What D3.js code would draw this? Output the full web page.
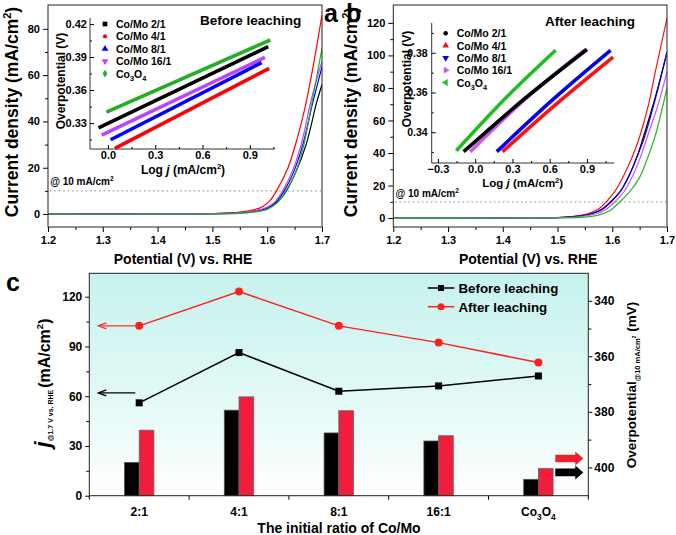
<!DOCTYPE html>
<html>
<head>
<meta charset="utf-8">
<script src="https://cdn.jsdelivr.net/npm/d3@7/dist/d3.min.js"></script>
<style>
  body { margin: 0; background: #fff; }
  svg { display: block; font-family: "Liberation Sans", Arial, sans-serif; font-weight: bold; }
</style>
</head>
<body>
<svg id="chart" width="676" height="535"></svg>
<script>
// DATA -------------------------------------------------------------
var sampleNames = ["Co/Mo 2/1", "Co/Mo 4/1", "Co/Mo 8/1", "Co/Mo 16/1", "Co3O4"];
var ratioLabels = ["2:1", "4:1", "8:1", "16:1", "Co3O4"];

// panel c : current at 1.7 V (left axis) and overpotential @10 mA/cm2 (right axis, bars)
var jBefore = [56, 86.3, 63, 66.2, 72.2];
var jAfter = [102.4, 123.1, 102.4, 92.3, 80.3];
var etaBefore = [398.2, 379.4, 387.6, 390.5, 404.3];
var etaAfter = [386.6, 374.6, 379.6, 388.6, 400.4];

// LSV curves [potential V, j mA/cm2] before leaching
var lsvBefore21 = [[1.2,0],[1.45,0.05],[1.5,0.15],[1.55,0.5],[1.575,1.1],[1.6,2.5],[1.62,5.5],[1.635,10],[1.652,18],[1.671,30],[1.69,48],[1.7,56]];
var lsvBefore41 = [[1.2,0],[1.45,0.1],[1.5,0.2],[1.55,0.8],[1.575,1.8],[1.593,3.4],[1.605,5.8],[1.617,10],[1.638,20],[1.654,32],[1.669,46],[1.684,64],[1.7,86]];
var lsvBefore81 = [[1.2,0],[1.45,0.05],[1.5,0.15],[1.55,0.5],[1.575,1.2],[1.6,2.6],[1.617,5.5],[1.631,10],[1.648,18],[1.665,30],[1.683,48],[1.7,63.6]];
var lsvBefore161 = [[1.2,0],[1.45,0.05],[1.5,0.15],[1.55,0.55],[1.575,1.3],[1.6,2.9],[1.615,5.5],[1.628,10],[1.645,18],[1.662,30],[1.681,50],[1.7,66]];
var lsvBeforeCo = [[1.2,0],[1.45,0],[1.5,0.05],[1.55,0.3],[1.575,0.8],[1.6,2],[1.618,4.8],[1.634,10],[1.652,18],[1.667,30],[1.683,50],[1.7,71.6]];

// LSV curves after leaching
var lsvAfter21 = [[1.2,0],[1.45,0.1],[1.5,0.3],[1.53,0.9],[1.56,2.6],[1.58,5.2],[1.597,10],[1.615,16.5],[1.632,27],[1.645,37.5],[1.657,50],[1.68,76],[1.7,102]];
var lsvAfter41 = [[1.2,0],[1.45,0.1],[1.5,0.3],[1.53,1],[1.555,2.6],[1.575,5.5],[1.589,10],[1.606,17],[1.623,27.5],[1.637,38],[1.65,50],[1.665,68],[1.68,92],[1.7,123]];
var lsvAfter81 = [[1.2,0],[1.45,0.1],[1.5,0.3],[1.53,0.9],[1.56,2.5],[1.58,5],[1.598,10],[1.615,16.5],[1.632,27],[1.645,37.5],[1.659,50],[1.68,75],[1.7,102]];
var lsvAfter161 = [[1.2,0],[1.45,0.05],[1.5,0.2],[1.54,0.8],[1.565,2.2],[1.587,5],[1.605,10],[1.622,16.5],[1.638,26.5],[1.651,37],[1.664,50],[1.684,70],[1.7,90]];
var lsvAfterCo = [[1.2,0],[1.45,0.05],[1.5,0.1],[1.55,0.6],[1.575,1.8],[1.596,4.6],[1.614,10],[1.632,16.3],[1.65,25],[1.664,36.5],[1.678,50],[1.7,80]];

// Tafel insets [log j, overpotential V]
var tafelBefore21 = [[-0.06,0.3255],[1.017,0.3994]];
var tafelBefore41 = [[0.044,0.307],[1.023,0.3797]];
var tafelBefore81 = [[0.017,0.3148],[0.975,0.385]];
var tafelBefore161 = [[-0.04,0.319],[0.996,0.3897]];
var tafelBeforeCo = [[-0.01,0.340],[1.03,0.4055]];

var tafelAfter21 = [[-0.093,0.3302],[0.4,0.357],[0.9,0.3817]];
var tafelAfter41 = [[0.22,0.3302],[0.65,0.354],[1.11,0.3778]];
var tafelAfter81 = [[0.174,0.3302],[0.6,0.355],[1.09,0.3812]];
var tafelAfter161 = [[-0.04,0.3302],[0.4,0.3565],[0.89,0.3817]];
var tafelAfterCo = [[-0.152,0.3307],[0.25,0.3575],[0.648,0.3813]];

// ------------------------------------------------------------------
var svg = d3.select("#chart");
var defs = svg.append("defs");
var colorsA = ["#000000", "#ff0000", "#0000ff", "#bb44ff", "#22b022"];
var colorsB = ["#000000", "#ff1010", "#0000ee", "#cc55ee", "#22bb22"];

function styleAxis(g, fs) {
	g.select(".domain").remove();
	g.selectAll(".tick line").attr("stroke", "#000");
	g.selectAll(".tick text").attr("font-size", fs).attr("font-weight", "bold").attr("fill", "#000")
		.attr("font-family", "'Liberation Sans', Arial, sans-serif");
}

function writeName(t, s, fs) {
	if (s === "Co3O4") {
		t.append("tspan").text("Co");
		t.append("tspan").attr("font-size", fs * 0.7).attr("dy", fs * 0.3).text("3");
		t.append("tspan").attr("dy", -fs * 0.3).text("O");
		t.append("tspan").attr("font-size", fs * 0.7).attr("dy", fs * 0.3).text("4");
	} else {
		t.text(s);
	}
}

function lsvPanel(o) {
	var x = d3.scaleLinear().domain([1.2, 1.7]).range([o.left, o.right]);
	var y = d3.scaleLinear().domain(o.yDom).range([o.bottom, o.top]);
	var g = svg.append("g");

	g.append("g").attr("transform", "translate(0," + o.bottom + ")")
		.call(d3.axisBottom(x).tickValues([1.25, 1.35, 1.45, 1.55, 1.65]).tickSize(3).tickFormat(""))
		.call(styleAxis, 11);
	g.append("g").attr("transform", "translate(0," + o.bottom + ")")
		.call(d3.axisBottom(x).tickValues([1.2, 1.3, 1.4, 1.5, 1.6, 1.7]).tickSize(5).tickPadding(4).tickFormat(d3.format(".1f")))
		.call(styleAxis, 11);
	g.append("g").attr("transform", "translate(" + o.left + ",0)")
		.call(d3.axisLeft(y).tickValues(o.yMinor).tickSize(3).tickFormat(""))
		.call(styleAxis, 11);
	g.append("g").attr("transform", "translate(" + o.left + ",0)")
		.call(d3.axisLeft(y).tickValues(o.yTicks).tickSize(5).tickPadding(3))
		.call(styleAxis, 11);

	// 10 mA/cm2 guide
	g.append("line").attr("x1", x(1.203)).attr("x2", o.right).attr("y1", y(10)).attr("y2", y(10))
		.attr("stroke", "#8c9cb4").attr("stroke-width", 1.2).attr("stroke-dasharray", "1.5,3");
	var lab = g.append("text").attr("x", x(1.204)).attr("y", y(10) - o.refGap).attr("font-size", 10);
	lab.append("tspan").text("@ 10 mA/cm");
	lab.append("tspan").attr("font-size", 6.5).attr("dy", -4).text("2");

	defs.append("clipPath").attr("id", "clip" + o.id).append("rect")
		.attr("x", o.left).attr("y", o.top).attr("width", o.right - o.left).attr("height", o.bottom - o.top);

	var line = d3.line().x(function(d) { return x(d[0]); }).y(function(d) { return y(d[1]); })
		.curve(d3.curveCatmullRom.alpha(0.5));
	g.append("g").attr("clip-path", "url(#clip" + o.id + ")")
		.selectAll("path").data(o.curves).enter().append("path")
		.attr("d", line).attr("fill", "none")
		.attr("stroke", function(d, i) { return o.colors[i]; })
		.attr("stroke-width", 1.2);

	g.append("rect").attr("x", o.left).attr("y", o.top).attr("width", o.right - o.left).attr("height", o.bottom - o.top)
		.attr("fill", "none").attr("stroke", "#222").attr("stroke-width", 1);

	g.append("text").attr("x", (o.left + o.right) / 2 - 2).attr("y", 264).attr("text-anchor", "middle")
		.attr("font-size", 14).text("Potential (V) vs. RHE");

	var yt = g.append("text").attr("transform", "translate(" + o.yTitleX + ",112) rotate(-90)")
		.attr("text-anchor", "middle").attr("font-size", 17.5);
	yt.append("tspan").text("Current density (mA/cm");
	yt.append("tspan").attr("font-size", 11).attr("dy", -7).text("2");
	yt.append("tspan").attr("dy", 7).text(")");

	g.append("text").attr("x", o.titleX).attr("y", o.titleY).attr("font-size", 13.5).text(o.title);
	g.append("text").attr("x", o.letterX).attr("y", 22).attr("font-size", 25).text(o.letter);
}

function tafelInset(o) {
	var x = d3.scaleLinear().domain(o.xDom).range([o.left, o.right]);
	var y = d3.scaleLinear().domain(o.yDom).range([o.bottom, o.top]);
	var g = svg.append("g");

	g.append("line").attr("x1", o.left).attr("x2", o.left).attr("y1", o.top).attr("y2", o.bottom).attr("stroke", "#333");
	g.append("line").attr("x1", o.left).attr("x2", o.right).attr("y1", o.bottom).attr("y2", o.bottom).attr("stroke", "#333");

	// ticks point inward
	g.append("g").attr("transform", "translate(0," + o.bottom + ")")
		.call(d3.axisBottom(x).tickValues(o.xMinor).tickSize(-2).tickFormat(""))
		.call(styleAxis, 11);
	g.append("g").attr("transform", "translate(0," + o.bottom + ")")
		.call(d3.axisBottom(x).tickValues(o.xTicks).tickSize(-4).tickPadding(o.xPad).tickFormat(d3.format(".1f")))
		.call(styleAxis, 11);
	g.append("g").attr("transform", "translate(" + o.left + ",0)")
		.call(d3.axisLeft(y).tickValues(o.yMinor).tickSize(-2).tickFormat(""))
		.call(styleAxis, 11);
	g.append("g").attr("transform", "translate(" + o.left + ",0)")
		.call(d3.axisLeft(y).tickValues(o.yTicks).tickSize(-4).tickPadding(o.yPad).tickFormat(d3.format(".2f")))
		.call(styleAxis, o.yFont);

	var line = d3.line().x(function(d) { return x(d[0]); }).y(function(d) { return y(d[1]); })
		.curve(d3.curveMonotoneX);
	var order = [4, 3, 2, 0, 1];
	order.forEach(function(i) {
		g.append("path").attr("d", line(o.series[i])).attr("fill", "none")
			.attr("stroke", o.colors[i]).attr("stroke-width", 3.6);
	});

	// legend
	sampleNames.forEach(function(name, i) {
		var ly = o.legY + i * o.legStep;
		g.append("path").attr("d", d3.symbol().type(o.symbols[i][0]).size(o.symbols[i][1])())
			.attr("transform", "translate(" + o.legX + "," + ly + ") rotate(" + o.symbols[i][2] + ")")
			.attr("fill", o.colors[i]);
		var t = g.append("text").attr("x", o.legX + 11).attr("y", ly + 4).attr("font-size", 10.5);
		writeName(t, name, 10.5);
	});

	g.append("text").attr("transform", "translate(" + o.yTitle[0] + "," + o.yTitle[1] + ") rotate(-90)")
		.attr("text-anchor", "middle").attr("font-size", 12).text("Overpotential (V)");
	var xt = g.append("text").attr("x", o.xTitle[0]).attr("y", o.xTitle[1]).attr("text-anchor", "middle").attr("font-size", o.xTitleFont);
	xt.append("tspan").text("Log ");
	xt.append("tspan").attr("font-style", "italic").text("j");
	xt.append("tspan").text(" (mA/cm");
	xt.append("tspan").attr("font-size", 7.5).attr("dy", -4.5).text("2");
	xt.append("tspan").attr("dy", 4.5).text(")");
}

// panel a
lsvPanel({
	id: "a", left: 48, right: 322, top: 5, bottom: 227, yDom: [-5.6, 90.3],
	yTicks: [0, 20, 40, 60, 80], yMinor: [10, 30, 50, 70],
	curves: [lsvBefore21, lsvBefore41, lsvBefore81, lsvBefore161, lsvBeforeCo], colors: colorsA,
	refGap: 6, yTitleX: 17.5, title: "Before leaching", titleX: 200, titleY: 24.5, letter: "a", letterX: 324
});
tafelInset({
	left: 90, right: 275, top: 18, bottom: 149, xDom: [-0.114, 1.06], yDom: [0.3064, 0.4255],
	xTicks: [0, 0.3, 0.6, 0.9], xMinor: [0.15, 0.45, 0.75, 1.05], xPad: 2,
	yTicks: [0.33, 0.36, 0.39, 0.42], yMinor: [0.315, 0.345, 0.375, 0.405], yFont: 11, yPad: 3,
	series: [tafelBefore21, tafelBefore41, tafelBefore81, tafelBefore161, tafelBeforeCo], colors: colorsA,
	symbols: [[d3.symbolSquare, 22, 0], [d3.symbolCircle, 14, 0], [d3.symbolTriangle, 20, 0], [d3.symbolTriangle, 20, 180], [d3.symbolDiamond, 18, 0]],
	legX: 105, legY: 24, legStep: 12.4, yTitle: [65, 81], xTitle: [183, 173.5], xTitleFont: 12
});

// panel b
lsvPanel({
	id: "b", left: 393.3, right: 667, top: 5, bottom: 227, yDom: [-5.5, 131],
	yTicks: [0, 20, 40, 60, 80, 100, 120], yMinor: [10, 30, 50, 70, 90, 110],
	curves: [lsvAfter21, lsvAfter41, lsvAfter81, lsvAfter161, lsvAfterCo], colors: colorsB,
	refGap: 5, yTitleX: 357, title: "After leaching", titleX: 545, titleY: 25.5, letter: "b", letterX: 346
});
tafelInset({
	left: 431.7, right: 614.3, top: 23, bottom: 163, xDom: [-0.35, 1.12], yDom: [0.3245, 0.395],
	xTicks: [-0.3, 0, 0.3, 0.6, 0.9], xMinor: [-0.15, 0.15, 0.45, 0.75, 1.05], xPad: 2.5,
	yTicks: [0.34, 0.36, 0.38], yMinor: [0.33, 0.35, 0.37, 0.39], yFont: 10.5, yPad: 4,
	series: [tafelAfter21, tafelAfter41, tafelAfter81, tafelAfter161, tafelAfterCo], colors: colorsB,
	symbols: [[d3.symbolCircle, 16, 0], [d3.symbolTriangle, 20, 0], [d3.symbolTriangle, 20, 180], [d3.symbolTriangle, 20, 90], [d3.symbolTriangle, 20, -90]],
	legX: 445.7, legY: 33.3, legStep: 12.3, yTitle: [411, 79], xTitle: [522.7, 187], xTitleFont: 11.5
});

// panel c ----------------------------------------------------------
var cL = 89.3, cR = 588.3, cT = 273.3, cB = 495.7;
var xc = d3.scaleBand().domain(ratioLabels).range([cL, cR]);
var yL = d3.scaleLinear().domain([0, 134.1]).range([cB, cT]);
var yR = d3.scaleLinear().domain([410.2, 330.1]).range([cB, cT]);
var barW = 14.7;
function mid(i) { return xc(ratioLabels[i]) + xc.bandwidth() / 2; }

var grad = defs.append("linearGradient").attr("id", "bgC").attr("x1", 0).attr("y1", 0).attr("x2", 0).attr("y2", 1);
grad.append("stop").attr("offset", "0%").attr("stop-color", "#c6f2ee");
grad.append("stop").attr("offset", "55%").attr("stop-color", "#e2f9f6");
grad.append("stop").attr("offset", "100%").attr("stop-color", "#ffffff");

var gc = svg.append("g");
gc.append("rect").attr("x", cL).attr("y", cT).attr("width", cR - cL).attr("height", cB - cT).attr("fill", "url(#bgC)");

gc.selectAll(".barB").data(etaBefore).enter().append("rect").attr("class", "barB")
	.attr("x", function(d, i) { return mid(i) - barW; })
	.attr("y", function(d) { return yR(d); })
	.attr("width", barW).attr("height", function(d) { return cB - yR(d); })
	.attr("fill", "#000").attr("stroke", "#555").attr("stroke-width", 0.8);
gc.selectAll(".barA").data(etaAfter).enter().append("rect").attr("class", "barA")
	.attr("x", function(d, i) { return mid(i); })
	.attr("y", function(d) { return yR(d); })
	.attr("width", barW).attr("height", function(d) { return cB - yR(d); })
	.attr("fill", "#f21c3c").attr("stroke", "#666").attr("stroke-width", 0.8);

var lineC = d3.line().x(function(d, i) { return mid(i); }).y(function(d) { return yL(d); });
gc.append("path").attr("d", lineC(jBefore)).attr("fill", "none").attr("stroke", "#000").attr("stroke-width", 1.5);
gc.selectAll(".mB").data(jBefore).enter().append("rect").attr("class", "mB")
	.attr("x", function(d, i) { return mid(i) - 3.5; }).attr("y", function(d) { return yL(d) - 3.5; })
	.attr("width", 7).attr("height", 7).attr("fill", "#000");
gc.append("path").attr("d", lineC(jAfter)).attr("fill", "none").attr("stroke", "#ff2020").attr("stroke-width", 1.5);
gc.selectAll(".mA").data(jAfter).enter().append("circle").attr("class", "mA")
	.attr("cx", function(d, i) { return mid(i); }).attr("cy", function(d) { return yL(d); })
	.attr("r", 4).attr("fill", "#ff2020");

// axes
gc.append("g").attr("transform", "translate(" + cL + ",0)")
	.call(d3.axisLeft(yL).tickValues([15, 45, 75, 105]).tickSize(3).tickFormat(""))
	.call(styleAxis, 12);
gc.append("g").attr("transform", "translate(" + cL + ",0)")
	.call(d3.axisLeft(yL).tickValues([0, 30, 60, 90, 120]).tickSize(4).tickPadding(3))
	.call(styleAxis, 12);
gc.append("g").attr("transform", "translate(" + cR + ",0)")
	.call(d3.axisRight(yR).tickValues([350, 370, 390]).tickSize(3).tickFormat(""))
	.call(styleAxis, 12);
gc.append("g").attr("transform", "translate(" + cR + ",0)")
	.call(d3.axisRight(yR).tickValues([340, 360, 380, 400]).tickSize(4).tickPadding(2))
	.call(styleAxis, 12);
ratioLabels.concat([null]).forEach(function(d) {
	var xx = d === null ? cR : xc(d);
	gc.append("line").attr("x1", xx).attr("x2", xx).attr("y1", cB).attr("y2", cB + 4).attr("stroke", "#000");
});
ratioLabels.forEach(function(d, i) {
	var t = gc.append("text").attr("x", mid(i)).attr("y", 516).attr("text-anchor", "middle").attr("font-size", 12);
	writeName(t, d, 12);
});

gc.append("rect").attr("x", cL).attr("y", cT).attr("width", cR - cL).attr("height", cB - cT)
	.attr("fill", "none").attr("stroke", "#222").attr("stroke-width", 1);

gc.append("text").attr("x", 339).attr("y", 533).attr("text-anchor", "middle").attr("font-size", 14)
	.text("The initial ratio of Co/Mo");

// left title
var lt = gc.append("text").attr("transform", "translate(50,383) rotate(-90)").attr("text-anchor", "middle");
lt.append("tspan").attr("font-size", 22).attr("font-style", "italic").text("j");
lt.append("tspan").attr("font-size", 7).attr("dy", 3).text("@1.7 V vs. RHE ");
lt.append("tspan").attr("font-size", 16).attr("dy", -3).text("(mA/cm");
lt.append("tspan").attr("font-size", 9.5).attr("dy", -7).text("2");
lt.append("tspan").attr("font-size", 16).attr("dy", 7).text(")");

// right title
var rt = gc.append("text").attr("transform", "translate(636,385) rotate(-90)").attr("text-anchor", "middle");
rt.append("tspan").attr("font-size", 13.5).text("Overpotential");
rt.append("tspan").attr("font-size", 7.5).attr("dy", 4).text("@10 mA/cm");
rt.append("tspan").attr("font-size", 5).attr("dy", -4).text("2");
rt.append("tspan").attr("font-size", 13.5).attr("dy", 0).text(" (mV)");

// legend
[["Before leaching", "#000", 288], ["After leaching", "#ff2020", 306.7]].forEach(function(r, i) {
	gc.append("line").attr("x1", 427.7).attr("x2", 454.3).attr("y1", r[2]).attr("y2", r[2])
		.attr("stroke", r[1]).attr("stroke-width", 1.5);
	if (i === 0) {
		gc.append("rect").attr("x", 441 - 3).attr("y", r[2] - 3).attr("width", 6).attr("height", 6).attr("fill", r[1]);
	} else {
		gc.append("circle").attr("cx", 441).attr("cy", r[2]).attr("r", 3.5).attr("fill", r[1]);
	}
	gc.append("text").attr("x", 458.5).attr("y", r[2] + 5).attr("font-size", 13.3).text(r[0]);
});

// arrows to the left axis
[[jAfter[0], "#ff3030"], [62, "#000"]].forEach(function(a) {
	var ay = yL(a[0]);
	gc.append("line").attr("x1", cL + 46).attr("x2", cL + 10).attr("y1", ay).attr("y2", ay)
		.attr("stroke", a[1]).attr("stroke-width", 1.3);
	gc.append("path").attr("d", "M" + (cL + 17) + "," + (ay - 3) + "L" + (cL + 9) + "," + ay + "L" + (cL + 17) + "," + (ay + 3))
		.attr("fill", "none").attr("stroke", a[1]).attr("stroke-width", 1.3);
});

// block arrows to the right axis
[[396.8, "#ee2030"], [401.8, "#000"]].forEach(function(a) {
	var ay = yR(a[0]), x0 = cR - 33, x1 = cR - 5, xh = cR - 13;
	gc.append("path")
		.attr("d", "M" + x0 + "," + (ay - 3.8) + "L" + xh + "," + (ay - 3.8) + "L" + xh + "," + (ay - 7) +
			"L" + x1 + "," + ay + "L" + xh + "," + (ay + 7) + "L" + xh + "," + (ay + 3.8) + "L" + x0 + "," + (ay + 3.8) + "Z")
		.attr("fill", a[1]);
});

gc.append("text").attr("x", 6).attr("y", 291).attr("font-size", 25).text("c");
</script>
</body>
</html>
